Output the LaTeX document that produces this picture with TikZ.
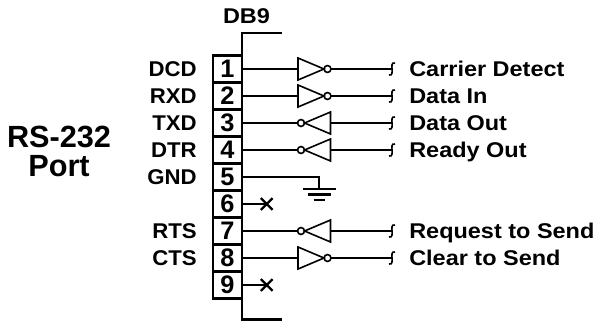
\documentclass[tikz,border=0pt]{standalone}
\usepackage{fontspec}
\setmainfont{Liberation Sans}
\usetikzlibrary{shapes.misc}
\def\wide#1{\scalebox{1.1}[1]{#1}}
\def\semi#1{\scalebox{1.04}[1]{#1}}
\def\bufright(#1,#2)#3{%
  \draw[gate] (#1,#2-11) -- (#1+26,#2) -- (#1,#2+11) -- cycle;
  \draw[gate] (#1+29.5,#2) circle (2.6pt);
  \coordinate (#3in) at (#1,#2);
  \coordinate (#3out) at (#1+33,#2);}
\def\bufleft(#1,#2)#3{%
  \draw[gate] (#1+3.5,#2) circle (2.6pt);
  \draw[gate] (#1+33,#2-11) -- (#1+7,#2) -- (#1+33,#2+11) -- cycle;
  \coordinate (#3in) at (#1+33,#2);
  \coordinate (#3out) at (#1,#2);}
\def\plug(#1){\draw[gate] ($(#1)+(3,-6)$) .. controls ($(#1)+(-1,-7)$) and ($(#1)+(0,-2)$) .. (#1) .. controls ($(#1)+(0,2)$) and ($(#1)+(1,7)$) .. ($(#1)+(-3,6)$);}
\usetikzlibrary{calc}
\tikzset{
  wire/.style={line width=1.6pt},
  gate/.style={line width=1.2pt},
  pinbox/.style={draw, line width=1.6pt, minimum width=21.75pt, minimum height=20.25pt, inner sep=0pt, outer sep=0pt, font=\bfseries\fontsize{19}{19}\selectfont},
  pinlbl/.style={anchor=base east, inner sep=0pt, font=\bfseries\fontsize{16}{18}\selectfont},
  siglbl/.style={anchor=base west, inner sep=0pt, font=\bfseries\fontsize{16}{18}\selectfont},
  xout/.style={cross out, draw, line width=1.8pt, minimum size=7pt, inner sep=0pt}
}
\begin{document}
\begin{tikzpicture}[x=0.75pt, y=-0.75pt]
		\useasboundingbox (0,0) rectangle (598,321);
		
		%%%%% connector %%%%%
		\node[pinlbl, anchor=base] (db9) at (246.5,23.5) {\wide{DB9}};
		\node[align=center, inner sep=0pt, font=\bfseries\fontsize{23}{21.75}\selectfont] (port) at (59,151) {RS-232\\Port};
		
		\node[pinbox] (b1) at (227.5,69) {1};
		\node[pinbox] (b2) at (227.5,96) {2};
		\node[pinbox] (b3) at (227.5,123) {3};
		\node[pinbox] (b4) at (227.5,150) {4};
		\node[pinbox] (b5) at (227.5,177) {5};
		\node[pinbox] (b6) at (227.5,204) {6};
		\node[pinbox] (b7) at (227.5,231) {7};
		\node[pinbox] (b8) at (227.5,258) {8};
		\node[pinbox] (b9) at (227.5,285) {9};
		\draw[wire] (282,33) -- (242,33) -- (242,319.5) -- (282,319.5);
		
		\node[pinlbl] (l1) at (197,76.5) {\semi{DCD}};
		\node[pinlbl] (l2) at (197,103.5) {\semi{RXD}};
		\node[pinlbl] (l3) at (197,130.5) {\semi{TXD}};
		\node[pinlbl] (l4) at (197,157.5) {\semi{DTR}};
		\node[pinlbl] (l5) at (197,184.5) {\semi{GND}};
		\node[pinlbl] (l7) at (197,238.5) {\semi{RTS}};
		\node[pinlbl] (l8) at (197,265.5) {\semi{CTS}};
		
		%%%%% buffers %%%%%
		\bufright(298,69){u1}
		\bufright(298,96){u2}
		\bufleft(297.5,123){u3}
		\bufleft(297.5,150){u4}
		\bufleft(297.5,231){u7}
		\bufright(298,258){u8}
		
		\coordinate (j1) at (392,69);
		\coordinate (j2) at (392,96);
		\coordinate (j3) at (392,123);
		\coordinate (j4) at (392,150);
		\coordinate (j7) at (392,231);
		\coordinate (j8) at (392,258);
		
		\draw[wire] (b1.east) -- (u1in);
		\draw[wire] (u1out) -- (j1);
		\draw[wire] (b2.east) -- (u2in);
		\draw[wire] (u2out) -- (j2);
		\draw[wire] (b3.east) -- (u3out);
		\draw[wire] (u3in) -- (j3);
		\draw[wire] (b4.east) -- (u4out);
		\draw[wire] (u4in) -- (j4);
		\draw[wire] (b7.east) -- (u7out);
		\draw[wire] (u7in) -- (j7);
		\draw[wire] (b8.east) -- (u8in);
		\draw[wire] (u8out) -- (j8);
		
		\plug(j1) \plug(j2) \plug(j3) \plug(j4) \plug(j7) \plug(j8)
		
		\node[siglbl] (t1) at (409,76.5) {\wide{Carrier Detect}};
		\node[siglbl] (t2) at (409,103.5) {\wide{Data In}};
		\node[siglbl] (t3) at (409,130.5) {\wide{Data Out}};
		\node[siglbl] (t4) at (409,157.5) {\wide{Ready Out}};
		\node[siglbl] (t7) at (409,238.5) {\wide{Request to Send}};
		\node[siglbl] (t8) at (409,265.5) {\wide{Clear to Send}};
		
		%%%%% ground and unused %%%%%
		\coordinate (gnd) at (319,189);
		\draw[wire] (b5.east) -| (gnd);
		\draw[line width=2pt] (gnd) +(-16.5,0) -- +(16.5,0);
		\draw[line width=2pt] (gnd) +(-11.5,5.5) -- +(11.5,5.5);
		\draw[line width=2pt] (gnd) +(-5.5,11) -- +(5.5,11);
		
		\node[xout] (x6) at (266.7,204) {};
		\node[xout] (x9) at (266.7,285) {};
		\draw[wire] (b6.east) -- (x6.center);
		\draw[wire] (b9.east) -- (x9.center);
		
		%%%%% END %%%%%
\end{tikzpicture}
\end{document}
